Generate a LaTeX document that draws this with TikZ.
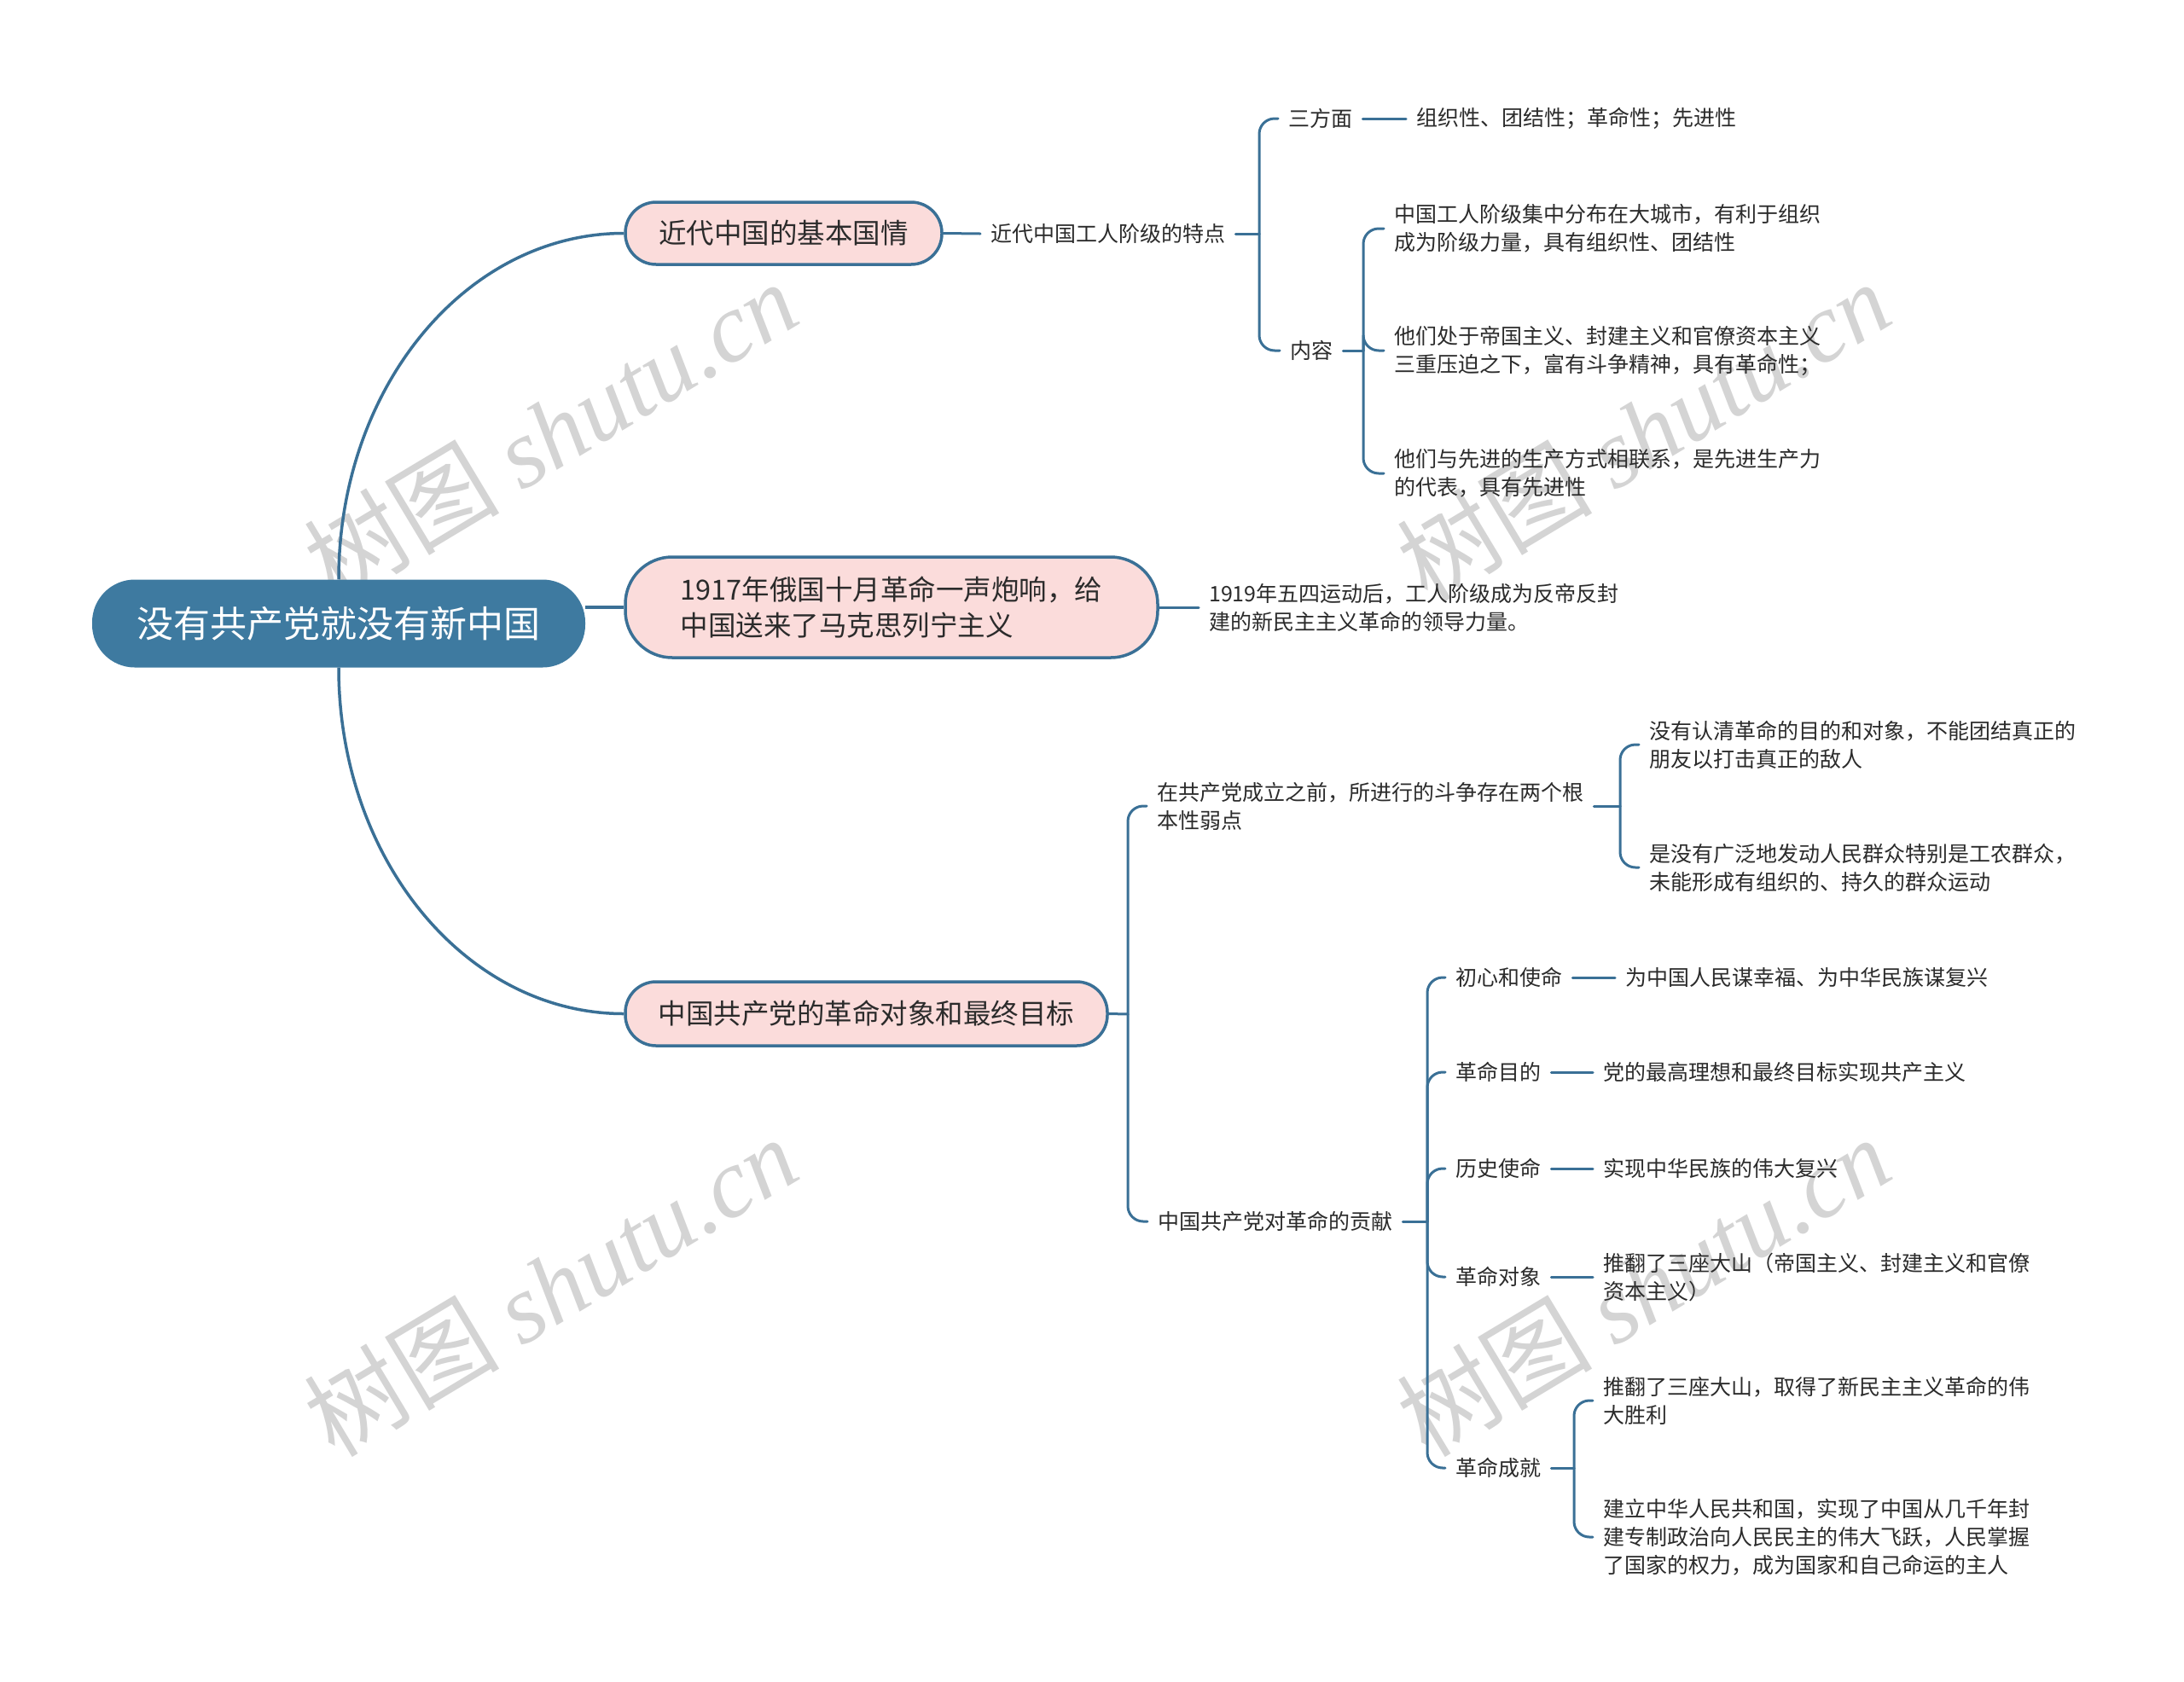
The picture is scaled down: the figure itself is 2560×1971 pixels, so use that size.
\documentclass[tikz,border=0pt]{standalone}
\usepackage{fontspec}
\setmainfont{Noto Sans CJK SC}
\newfontfamily\wmlatin{Liberation Serif}
\definecolor{lc}{HTML}{3A7096}
\definecolor{rootc}{HTML}{3E7AA0}
\definecolor{pinkc}{HTML}{FBDCDB}
\definecolor{txtc}{HTML}{2B2B2B}
\definecolor{wmc}{HTML}{D4D4D4}
\tikzset{
  conn/.style={draw=lc, line width=3pt, line cap=round},
  mainconn/.style={draw=lc, line width=3.5pt},
  bracket/.style={conn, rounded corners=18pt},
  rootbox/.style={fill=rootc, rounded corners=50pt, minimum width=578pt, minimum height=103pt, text=white, font=\fontsize{43}{50}\selectfont},
  topicbox/.style={draw=lc, line width=3.5pt, fill=pinkc, font=\fontsize{32.5}{42.5}\selectfont, align=left, text=txtc},
  leaf/.style={font=\fontsize{25}{33}\selectfont, align=left, inner xsep=12pt, inner ysep=4pt, anchor=west, text=txtc},
  wm/.style={text=wmc, rotate=31, font=\fontsize{115}{120}\selectfont}
}
\begin{document}
\begin{tikzpicture}[x=1pt,y=-1pt]
\fill[white] (0,0) rectangle (2560,1971);
\useasboundingbox (0,0) rectangle (2560,1971);

% watermarks
\node[wm] (wm1) at (645,505) {树图 {\wmlatin\itshape shutu.cn}};
\node[wm] (wm2) at (1926,505) {树图 {\wmlatin\itshape shutu.cn}};
\node[wm] (wm3) at (645,1508) {树图 {\wmlatin\itshape shutu.cn}};
\node[wm] (wm4) at (1926,1508) {树图 {\wmlatin\itshape shutu.cn}};

% root and main topics
\node[rootbox] (root) at (397,731) {没有共产党就没有新中国};
\node[topicbox, rounded corners=36pt, minimum width=371pt, minimum height=73pt] (n1) at (918.5,273.5) {近代中国的基本国情};
\node[topicbox, rounded corners=55pt, minimum width=624pt, minimum height=118pt] (n2) at (1045,712) {1917年俄国十月革命一声炮响，给\\中国送来了马克思列宁主义};
\node[topicbox, rounded corners=36pt, minimum width=565pt, minimum height=75pt] (n3) at (1015.5,1188.5) {中国共产党的革命对象和最终目标};

\draw[mainconn] (root.north) .. controls +(0,-225) and +(-185,0) .. (n1.west);
\draw[mainconn] (root.south) .. controls +(0,225) and +(-185,0) .. (n3.west);
\draw[mainconn] (root.east |- n2.west) -- (n2.west);

% branch 1
\node[leaf] (t1) at (1149,274) {近代中国工人阶级的特点};
\coordinate (j1) at (1476,274);
\node[leaf] (a1) at (1498,139) {三方面};
\node[leaf] (a2) at (1500,411) {内容};
\node[leaf] (b1) at (1648,139) {组织性、团结性；革命性；先进性};
\coordinate (j2) at (1598,411);
\node[leaf] (c1) at (1622,268) {中国工人阶级集中分布在大城市，有利于组织\\成为阶级力量，具有组织性、团结性};
\node[leaf] (c2) at (1622,411) {他们处于帝国主义、封建主义和官僚资本主义\\三重压迫之下，富有斗争精神，具有革命性；};
\node[leaf] (c3) at (1622,555) {他们与先进的生产方式相联系，是先进生产力\\的代表，具有先进性};

\draw[conn] (n1.east) -- (t1.west);
\draw[conn] (t1.east) -- (j1);
\draw[bracket] (j1) |- (a1.west);
\draw[bracket] (j1) |- (a2.west);
\draw[conn] (a1.east) -- (b1.west);
\draw[conn] (a2.east) -- (j2);
\draw[bracket] (j2) |- (c1.west);
\draw[bracket] (j2) |- (c2.west);
\draw[bracket] (j2) |- (c3.west);

% branch 2
\node[leaf] (d1) at (1405,712) {1919年五四运动后，工人阶级成为反帝反封\\建的新民主主义革命的领导力量。};
\draw[conn] (n2.east) -- (d1.west);

% branch 3
\coordinate (j3) at (1322,1189);
\node[leaf] (e1) at (1344,945) {在共产党成立之前，所进行的斗争存在两个根\\本性弱点};
\node[leaf] (e2) at (1345,1432) {中国共产党对革命的贡献};
\draw[conn] (n3.east) -- (j3);
\draw[bracket] (j3) |- (e1.west);
\draw[bracket] (j3) |- (e2.west);

\coordinate (j4) at (1899,945);
\node[leaf] (f1) at (1921,873) {没有认清革命的目的和对象，不能团结真正的\\朋友以打击真正的敌人};
\node[leaf] (f2) at (1921,1017) {是没有广泛地发动人民群众特别是工农群众，\\未能形成有组织的、持久的群众运动};
\draw[conn] (e1.east) -- (j4);
\draw[bracket] (j4) |- (f1.west);
\draw[bracket] (j4) |- (f2.west);

\coordinate (j5) at (1673,1432);
\node[leaf] (g1) at (1694,1146) {初心和使命};
\node[leaf] (g2) at (1694,1257) {革命目的};
\node[leaf] (g3) at (1694,1370) {历史使命};
\node[leaf] (g4) at (1694,1497) {革命对象};
\node[leaf] (g5) at (1694,1721) {革命成就};
\draw[conn] (e2.east) -- (j5);
\draw[bracket] (j5) |- (g1.west);
\draw[bracket] (j5) |- (g2.west);
\draw[bracket] (j5) |- (g3.west);
\draw[bracket] (j5) |- (g4.west);
\draw[bracket] (j5) |- (g5.west);

\node[leaf] (h1) at (1893,1146) {为中国人民谋幸福、为中华民族谋复兴};
\node[leaf] (h2) at (1867,1257) {党的最高理想和最终目标实现共产主义};
\node[leaf] (h3) at (1867,1370) {实现中华民族的伟大复兴};
\node[leaf] (h4) at (1867,1497) {推翻了三座大山（帝国主义、封建主义和官僚\\资本主义）};
\draw[conn] (g1.east) -- (h1.west);
\draw[conn] (g2.east) -- (h2.west);
\draw[conn] (g3.east) -- (h3.west);
\draw[conn] (g4.east) -- (h4.west);

\coordinate (j6) at (1845,1721);
\node[leaf] (k1) at (1867,1642) {推翻了三座大山，取得了新民主主义革命的伟\\大胜利};
\node[leaf] (k2) at (1867,1802) {建立中华人民共和国，实现了中国从几千年封\\建专制政治向人民民主的伟大飞跃，人民掌握\\了国家的权力，成为国家和自己命运的主人};
\draw[conn] (g5.east) -- (j6);
\draw[bracket] (j6) |- (k1.west);
\draw[bracket] (j6) |- (k2.west);
\end{tikzpicture}
\end{document}
